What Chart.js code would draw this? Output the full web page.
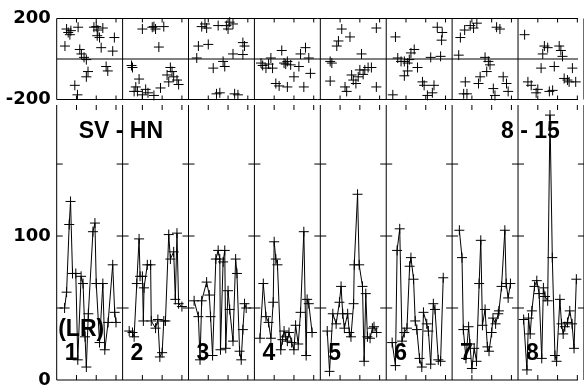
<!DOCTYPE html>
<html>
<head>
<meta charset="utf-8">
<script src="https://cdn.jsdelivr.net/npm/chart.js@4.4.1/dist/chart.umd.min.js"></script>
<style>
  html, body { margin: 0; padding: 0; background: #fff; }
  #wrap { position: relative; width: 584px; height: 386px; overflow: hidden; }
  #low { position: absolute; left: 0; top: 99px; }
  #top { position: absolute; left: 0; top: 0; }
</style>
</head>
<body>
<div id="wrap">
  <canvas id="low" width="584" height="287" style="width:584px;height:287px"></canvas>
  <canvas id="top" width="584" height="110" style="width:584px;height:110px"></canvas>
</div>
<script>
// panel labels and the two titles
const panels = ['1', '2', '3', '4', '5', '6', '7', '8'];
const leftTitle = 'SV - HN';
const rightTitle = '8 - 15';
const lowTag = '(LR)';

// lower strip: position inside each panel (0..1) and value
const lowPos = [
  [.12, .15, .19, .21, .24, .29, .32, .37, .40, .43, .45, .48, .55, .58, .60, .65, .70, .73, .78, .85, .88, .90],
  [.10, .15, .175, .215, .25, .265, .30, .315, .325, .375, .425, .435, .50, .535, .565, .60, .625, .65, .70, .725, .775, .80, .825, .85, .90],
  [.085, .15, .175, .20, .275, .315, .335, .365, .415, .45, .475, .485, .525, .55, .565, .60, .625, .675, .715, .735, .775, .80, .825, .85, .875],
  [.085, .135, .175, .215, .25, .285, .30, .325, .35, .40, .425, .45, .475, .50, .525, .565, .60, .625, .665, .70, .75, .785, .80, .825, .875],
  [.105, .14, .19, .24, .29, .315, .34, .365, .415, .44, .465, .505, .515, .565, .59, .64, .665, .69, .715, .755, .79, .815, .855],
  [.09, .14, .165, .205, .24, .275, .315, .355, .375, .415, .44, .465, .505, .54, .565, .615, .64, .675, .715, .74, .79, .825, .865],
  [.11, .15, .17, .21, .25, .27, .30, .335, .37, .41, .435, .46, .50, .535, .56, .60, .62, .66, .70, .71, .75, .80, .82, .85, .885],
  [.085, .135, .16, .185, .21, .25, .285, .32, .36, .385, .41, .45, .485, .52, .56, .585, .635, .66, .685, .71, .75, .785, .82, .85, .885]
];
const lowVal = [
  [50, 61, 108, 124, 74, 74, 14, 72, 67, 30, 9, 46, 103, 109, 67, 26, 67, 21, 40, 80, 47, 40],
  [34, 33, 30, 67, 98, 72, 72, 41, 64, 80, 80, 41, 36, 42, 16, 19, 41, 41, 101, 84, 89, 56, 102, 53, 51],
  [55, 44, 14, 55, 68, 59, 44, 17, 84, 90, 84, 21, 82, 90, 22, 62, 49, 27, 84, 74, 20, 14, 35, 53, 50],
  [29, 67, 44, 40, 29, 54, 96, 84, 80, 21, 28, 34, 30, 27, 33, 26, 21, 38, 25, 47, 103, 17, 56, 53, 33],
  [34, 6, 46, 39, 54, 65, 46, 36, 46, 33, 30, 53, 80, 129, 80, 65, 13, 60, 30, 29, 36, 37, 33],
  [26, 10, 90, 105, 27, 33, 36, 79, 85, 70, 41, 35, 15, 9, 47, 39, 34, 11, 53, 49, 14, 13, 71],
  [104, 85, 35, 15, 37, 25, 8, 22, 13, 67, 97, 38, 49, 23, 20, 33, 43, 39, 46, 48, 65, 104, 67, 57, 67],
  [42, 7, 43, 32, 48, 65, 69, 60, 15, 64, 58, 55, 184, 85, 17, 13, 56, 39, 32, 37, 40, 48, 39, 22, 70]
];

// upper strip: scatter only
const topPos = [
  [.125, .15, .175, .20, .215, .275, .315, .325, .35, .375, .415, .45, .45, .475, .565, .60, .615, .625, .65, .675, .70, .75, .775, .85, .875],
  [.135, .15, .175, .20, .225, .25, .30, .30, .35, .385, .45, .475, .475, .50, .55, .575, .625, .675, .70, .725, .75, .775, .825, .85],
  [.125, .15, .20, .25, .275, .30, .375, .425, .45, .475, .525, .55, .575, .60, .625, .675, .675, .70, .75, .825, .825, .85],
  [.10, .125, .175, .215, .25, .275, .325, .375, .415, .45, .475, .50, .50, .55, .60, .675, .70, .75, .775, .825, .85],
  [.15, .15, .175, .25, .275, .325, .375, .40, .45, .475, .50, .54, .575, .60, .625, .65, .675, .725, .775, .85, .85],
  [.10, .14, .175, .225, .275, .275, .325, .325, .35, .375, .425, .475, .55, .575, .625, .675, .70, .725, .775, .825, .84, .85],
  [.10, .125, .175, .19, .20, .225, .275, .325, .375, .40, .425, .50, .525, .55, .575, .625, .65, .675, .725, .775, .825, .85],
  [.10, .15, .20, .275, .30, .35, .375, .40, .45, .475, .525, .55, .625, .65, .675, .70, .75, .775, .825, .875]
];
const topVal = [
  [64, 148, 131, 120, 140, -130, -177, 157, 47, 25, 8, -3, -88, -62, 157, 160, 115, 143, 106, 56, 153, -37, -59, 39, 106],
  [-32, -42, -160, -138, -160, -99, 148, -177, -150, -167, 157, 160, -180, 148, 59, -143, 160, -79, -113, -42, -62, -88, -104, -126],
  [5, 64, 160, 173, 153, 72, -45, -172, 165, -167, -12, -37, 165, 148, 182, 173, 25, -172, -177, 81, 22, 64],
  [-20, -32, -45, -25, 5, -45, -121, -133, 42, -20, -25, -12, -138, -29, -88, -37, 25, -138, 56, 5, -71],
  [-12, -109, -20, 64, 89, 148, -138, -160, 109, -79, -104, -121, -88, -54, 25, -76, -54, -42, -42, 153, -138],
  [-177, 109, 5, -12, -12, -83, -20, -59, -3, 30, 47, -42, -113, -130, -180, 8, -167, -130, 157, 13, 93, 131],
  [19, 106, -172, 143, -113, -172, 165, 153, 177, -121, -88, 8, -62, -12, -29, -146, -180, 157, 148, -88, -121, -160],
  [120, -113, -130, -167, -150, -45, 25, 64, 56, -160, -155, -37, 64, 42, 13, -96, -104, -113, -45, -113]
];

const topTicks = [200, -200];
const lowTicks = [100, 0];
const sideTicks = [50, 100, 150];
const minorTicks = [0.3, 0.6, 0.9];
const xMax = 7.91;

const numFont = 'bold 18px "DejaVu Sans"';
const textFont = 'bold 23px "Liberation Sans", Arial';

function lowFramePlugin() {
  return {
    id: 'lowFrame',
    beforeDatasetsDraw(chart) {
      const { ctx, chartArea: a, scales: { x, y } } = chart;
      ctx.save();
      ctx.strokeStyle = '#000';
      ctx.lineWidth = 1;
      ctx.beginPath();
      for (let k = 0; k <= 8; k++) {
        const px = x.getPixelForValue(k);
        ctx.moveTo(px, a.top); ctx.lineTo(px, a.bottom);
        sideTicks.forEach(v => {
          const py = y.getPixelForValue(v);
          ctx.moveTo(k === 0 ? px : px - 6, py); ctx.lineTo(px + 6, py);
        });
        minorTicks.forEach(f => {
          const tx = x.getPixelForValue(k + f);
          ctx.moveTo(tx, a.top); ctx.lineTo(tx, a.top + 5);
          ctx.moveTo(tx, a.bottom); ctx.lineTo(tx, a.bottom - 5);
        });
      }
      ctx.moveTo(a.left, a.bottom); ctx.lineTo(a.right, a.bottom);
      ctx.stroke();
      ctx.restore();
    },
    afterDatasetsDraw(chart) {
      const { ctx, chartArea: a, scales: { x, y } } = chart;
      ctx.save();
      ctx.fillStyle = '#000';
      ctx.font = numFont;
      ctx.textAlign = 'right';
      ctx.textBaseline = 'middle';
      lowTicks.forEach(v => ctx.fillText(String(v), a.left - 6, y.getPixelForValue(v)));
      ctx.font = textFont;
      ctx.textAlign = 'left';
      ctx.textBaseline = 'alphabetic';
      ctx.fillText(leftTitle, a.left + 22, a.top + 33);
      ctx.fillText(rightTitle, x.getPixelForValue(7) - 17, a.top + 33);
      ctx.fillText(lowTag, a.left + 1.5, a.bottom - 44);
      panels.forEach((p, k) => ctx.fillText(p, x.getPixelForValue(k) + 8, a.bottom - 20));
      ctx.restore();
    }
  };
}

function topFramePlugin() {
  return {
    id: 'topFrame',
    beforeDatasetsDraw(chart) {
      const { ctx, chartArea: a, scales: { x, y } } = chart;
      ctx.save();
      ctx.strokeStyle = '#000';
      ctx.lineWidth = 1;
      ctx.beginPath();
      [200, 0, -200].forEach(v => {
        const py = y.getPixelForValue(v);
        ctx.moveTo(a.left, py); ctx.lineTo(a.right, py);
      });
      for (let k = 0; k <= 8; k++) {
        const px = x.getPixelForValue(k);
        ctx.moveTo(px, a.top); ctx.lineTo(px, a.bottom);
        minorTicks.forEach(f => {
          const tx = x.getPixelForValue(k + f);
          ctx.moveTo(tx, a.top); ctx.lineTo(tx, a.top + 4);
          ctx.moveTo(tx, a.bottom); ctx.lineTo(tx, a.bottom - 4);
        });
      }
      ctx.stroke();
      ctx.restore();
    },
    afterDatasetsDraw(chart) {
      const { ctx, chartArea: a, scales: { y } } = chart;
      ctx.save();
      ctx.fillStyle = '#000';
      ctx.font = numFont;
      ctx.textAlign = 'right';
      ctx.textBaseline = 'middle';
      topTicks.forEach(v => ctx.fillText(String(v), a.left - 6, y.getPixelForValue(v)));
      ctx.restore();
    }
  };
}

const pointStyle = {
  pointStyle: 'cross',
  pointRadius: 5,
  pointBorderColor: '#000',
  pointBorderWidth: 1,
  clip: false
};

const lowSets = lowVal.map((vals, i) => Object.assign({
  data: vals.map((v, j) => ({ x: i + lowPos[i][j], y: v })),
  showLine: true,
  borderColor: '#000',
  borderWidth: 1,
  tension: 0
}, pointStyle));

const topSets = topVal.map((vals, i) => Object.assign({
  data: vals.map((v, j) => ({ x: i + topPos[i][j], y: v })),
  showLine: false
}, pointStyle));

const common = {
  responsive: false,
  animation: false,
  devicePixelRatio: 1,
  events: [],
  plugins: { legend: { display: false }, tooltip: { enabled: false } }
};

new Chart(document.getElementById('low'), {
  type: 'scatter',
  data: { datasets: lowSets },
  options: Object.assign({}, common, {
    layout: { padding: { left: 56.7, right: 0, top: 0.5, bottom: 0.3 } },
    scales: {
      x: { type: 'linear', min: 0, max: xMax, display: false },
      y: { type: 'linear', min: 0, max: 191, display: false }
    }
  }),
  plugins: [lowFramePlugin()]
});

new Chart(document.getElementById('top'), {
  type: 'scatter',
  data: { datasets: topSets },
  options: Object.assign({}, common, {
    layout: { padding: { left: 56.7, right: 0, top: 18.5, bottom: 10.5 } },
    scales: {
      x: { type: 'linear', min: 0, max: xMax, display: false },
      y: { type: 'linear', min: -200, max: 200, display: false }
    }
  }),
  plugins: [topFramePlugin()]
});
</script>
</body>
</html>
